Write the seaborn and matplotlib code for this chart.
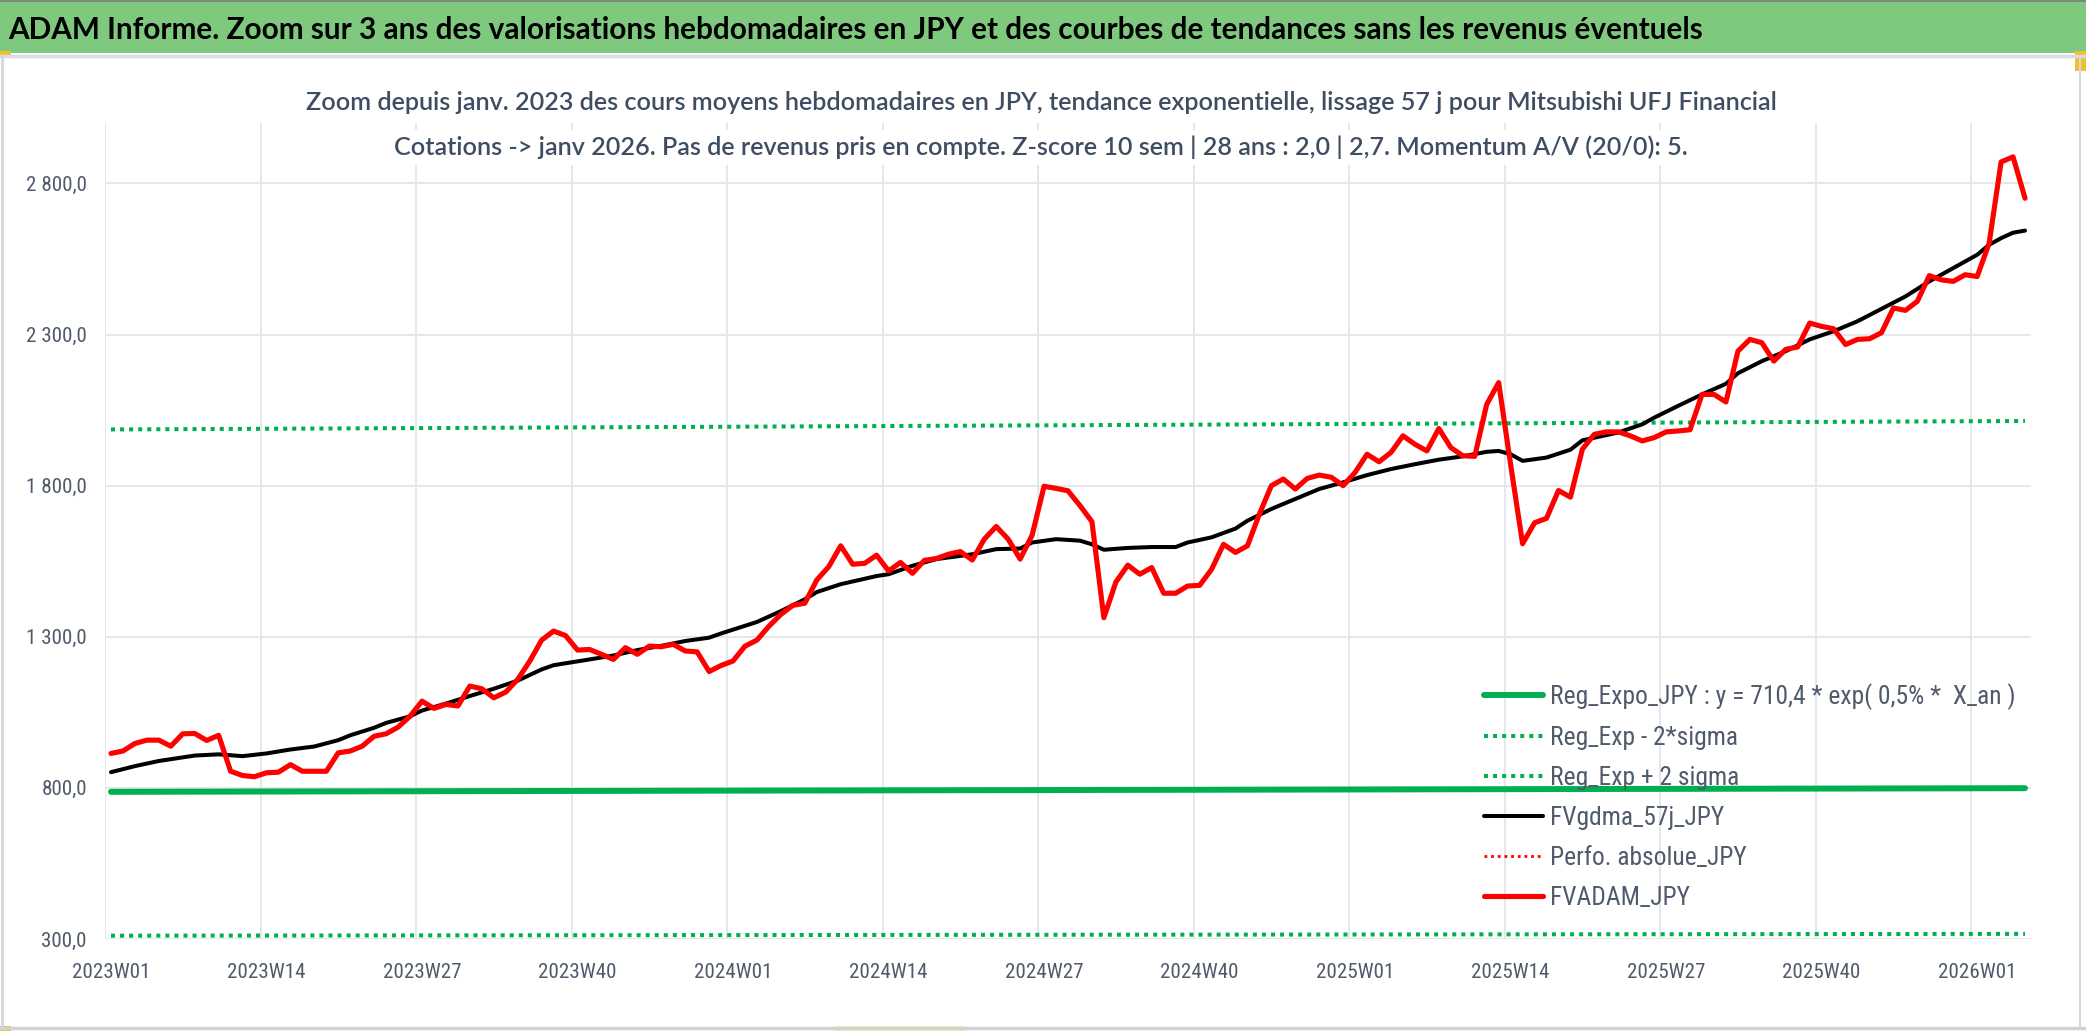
import matplotlib
matplotlib.use("Agg")
import matplotlib.pyplot as plt
from matplotlib import font_manager
from matplotlib.font_manager import FontProperties
from matplotlib.patches import Rectangle
from matplotlib.lines import Line2D
from matplotlib.ticker import FuncFormatter
import pandas as pd
import seaborn as sns

####### data (weekly, 2023W01 .. 2026W05)

tick_labels = ["2023W01", "2023W14", "2023W27", "2023W40", "2024W01", "2024W14", "2024W27",
               "2024W40", "2025W01", "2025W14", "2025W27", "2025W40", "2026W01"]
y_ticks = [300, 800, 1300, 1800, 2300, 2800]

# FVADAM_JPY, one value per week
fvadam_jpy = [
    914, 922, 947, 958, 958, 938, 979, 980, 957, 974, 855, 841, 837,
    850, 852, 877, 855, 855, 855, 916, 922, 938, 971, 979, 1001, 1037,
    1087, 1063, 1076, 1071, 1137, 1128, 1098, 1117, 1159, 1219, 1289, 1319, 1304,
    1256, 1258, 1242, 1225, 1264, 1242, 1269, 1267, 1275, 1253, 1250, 1185, 1205,
    1220, 1269, 1289, 1335, 1374, 1404, 1411, 1488, 1532, 1601, 1540, 1543, 1570,
    1518, 1546, 1510, 1553, 1559, 1573, 1582, 1554, 1623, 1665, 1623, 1557, 1636,
    1798, 1791, 1783, 1734, 1681, 1363, 1481, 1537, 1507, 1529, 1444, 1444, 1468,
    1470, 1523, 1606, 1579, 1601, 1706, 1800, 1822, 1789, 1824, 1835, 1828, 1800,
    1844, 1904, 1879, 1910, 1965, 1937, 1915, 1989, 1926, 1899, 1897, 2069, 2141,
    1870, 1608, 1677, 1692, 1784, 1762, 1921, 1970, 1978, 1978, 1965, 1948, 1959,
    1978, 1981, 1985, 2102, 2102, 2077, 2245, 2284, 2273, 2212, 2251, 2259, 2338,
    2327, 2319, 2267, 2284, 2286, 2306, 2388, 2380, 2410, 2495, 2481, 2476, 2498,
    2492, 2602, 2871, 2888, 2751,
]

# FVgdma_57j_JPY (smooth curve, read at these week positions)
gdma_weeks = [0, 2, 4, 7, 9, 11, 13, 15, 17, 19, 20, 22, 23, 25, 26, 28, 30, 32, 34, 36, 37,
              40, 42, 44, 46, 48, 50, 51, 54, 56, 58, 59, 61, 64, 65, 67, 69, 72, 74, 76, 77,
              79, 81, 82, 83, 85, 87, 89, 90, 92, 94, 95, 97, 99, 101, 103, 105, 107, 109,
              111, 113, 115, 116, 117, 118, 120, 122, 123, 126, 128, 129, 131, 133, 135,
              136, 138, 140, 142, 144, 146, 148, 150, 152, 154, 156, 157, 158, 159, 160]
gdma_values = [852, 872, 889, 907, 911, 905, 914, 927, 937, 958, 974, 999, 1015, 1037, 1056,
               1079, 1104, 1128, 1155, 1192, 1206, 1225, 1238, 1256, 1270, 1286, 1297, 1311,
               1349, 1385, 1424, 1448, 1474, 1501, 1507, 1535, 1557, 1573, 1590, 1592, 1612,
               1623, 1618, 1606, 1588, 1594, 1597, 1597, 1612, 1629, 1658, 1684, 1723, 1756,
               1789, 1811, 1835, 1855, 1871, 1886, 1897, 1912, 1915, 1904, 1882, 1893, 1919,
               1950, 1976, 2003, 2025, 2064, 2102, 2137, 2172, 2212, 2245, 2284, 2311, 2344,
               2385, 2426, 2476, 2520, 2564, 2597, 2619, 2637, 2644]

# exponential regression and its +/- 2 sigma band
reg_weeks = [0, 80, 160]
reg_expo = [787, 793, 799]
reg_minus = [311, 314, 317]
reg_plus = [1986, 2000, 2014]

title = ("ADAM Informe. Zoom sur 3 ans des valorisations hebdomadaires en JPY "
         "et des courbes de tendances sans les revenus éventuels")
sub1 = ("Zoom depuis janv. 2023 des cours moyens hebdomadaires en JPY, tendance "
        "exponentielle, lissage 57 j pour Mitsubishi UFJ Financial")
sub2 = "Cotations -> janv 2026. Pas de revenus pris en compte. Z-score 10 sem | 28 ans : 2,0 | 2,7. Momentum A/V (20/0): 5."

lbl_reg = "Reg_Expo_JPY : y = 710,4 * exp( 0,5% *  X_an )"
lbl_minus = "Reg_Exp - 2*sigma"
lbl_plus = "Reg_Exp + 2 sigma"
lbl_gdma = "FVgdma_57j_JPY"
lbl_perf = "Perfo. absolue_JPY"
lbl_adam = "FVADAM_JPY"

adam = pd.DataFrame({"week": range(len(fvadam_jpy)), "value": fvadam_jpy})
gdma = pd.DataFrame({"week": gdma_weeks, "value": gdma_values})
reg = pd.DataFrame({"week": reg_weeks, "expo": reg_expo, "minus": reg_minus, "plus": reg_plus})

####### style

sns.set_theme(style="white")
ttf = font_manager.fontManager.ttflist
names = {f.name for f in ttf}
head = "Lato" if "Lato" in names else "DejaVu Sans"
plt.rcParams["font.family"] = ["Liberation Sans", "DejaVu Sans"]


def find_condensed():
    # a narrow face looks closer to the Calibri used by the original sheet
    wanted = ["Liberation Sans Narrow", "Roboto Condensed", "Open Sans Condensed",
              "Noto Sans", "DejaVu Sans", "Open Sans", "Roboto"]
    for nm in wanted:
        for f in ttf:
            if f.name != nm or f.style != "normal" or f.weight not in (400, "normal", "regular"):
                continue
            if "Narrow" in nm or "Condensed" in nm or f.stretch in ("condensed", "semi-condensed"):
                return f.fname
    return None


cond_path = find_condensed()


def body_font(size):
    if cond_path:
        return FontProperties(fname=cond_path, size=size)
    return FontProperties(family="Liberation Sans", size=size)


GREEN = "#00B050"
GRID = "#E2E5EB"
TXT = "#4F5A6B"
SUB = "#3F4D63"

W, H = 2086, 1031
fig = plt.figure(figsize=(W / 100, H / 100), dpi=100, facecolor="white")
renderer = fig.canvas.get_renderer()


def text_box(s, fp=None, **kw):
    t = fig.text(0, 0, s, fontproperties=fp, **kw) if fp else fig.text(0, 0, s, **kw)
    bb = t.get_window_extent(renderer)
    t.remove()
    return bb


def fitted_size(s, target_px, **kw):
    bb = text_box(s, fontsize=20, **kw)
    return 20 * target_px / bb.width


# banner and sheet frame
fig.add_artist(Rectangle((0, 1 - 53 / H), 1, 53 / H, transform=fig.transFigure,
                         facecolor="#7FC97F", edgecolor="none", zorder=0))
fig.add_artist(Line2D([0, 1], [1 - 1 / H, 1 - 1 / H], transform=fig.transFigure,
                      color="#7A8A7A", lw=1.5))
fig.add_artist(Line2D([0, 1], [1 - 56 / H, 1 - 56 / H], transform=fig.transFigure,
                      color="#D9DCE2", lw=2.5))
fig.add_artist(Line2D([0, 1], [1 - 1028 / H, 1 - 1028 / H], transform=fig.transFigure,
                      color="#CDD1D8", lw=2.5))
fig.add_artist(Line2D([1.5 / W, 1.5 / W], [1 - 1028 / H, 1 - 56 / H], transform=fig.transFigure,
                      color="#D4D7DD", lw=2))
fig.add_artist(Line2D([2080 / W, 2080 / W], [1 - 1028 / H, 1 - 56 / H], transform=fig.transFigure,
                      color="#D4D7DD", lw=1.5))
for x0, y0, w0, h0, c in [(0, 51, 11, 4, "#F2C02F"), (2075, 51, 11, 20, "#F2C02F"),
                          (0, 1026, 11, 5, "#F2C02F"), (835, 1026, 130, 5, "#FAF3A0")]:
    fig.add_artist(Rectangle((x0 / W, 1 - (y0 + h0) / H), w0 / W, h0 / H,
                             transform=fig.transFigure, facecolor=c, edgecolor="none"))

fs_title = fitted_size(title, 1697, family=head, weight="bold")
fig.text(8 / W, 1 - 39 / H, title, family=head, weight="bold", fontsize=fs_title,
         color="black", ha="left", va="baseline")

fs_sub = fitted_size(sub1, 1473, family=head, weight="semibold")
for s, yb in [(sub1, 110), (sub2, 155)]:
    fig.text(1041 / W, 1 - yb / H, s, family=head, weight="semibold", fontsize=fs_sub,
             color=SUB, ha="center", va="baseline", zorder=5,
             bbox=dict(facecolor="white", edgecolor="none", pad=4))

# tick / legend sizes from the widths seen in the original
fs_tick = 20 * 61 / text_box("2 800,0", body_font(20)).width
if not cond_path:
    fs_tick *= 1.08
fs_leg = 20 * 465 / text_box(lbl_reg, body_font(20)).width
leg_px = fs_leg * 100 / 72
row_h = text_box(lbl_gdma, body_font(fs_leg)).height

####### chart

ax = fig.add_axes([105 / W, 1 - 939 / H, (2031 - 105) / W, (939 - 123) / H])
ax.set_facecolor("white")

sns.lineplot(data=reg, x="week", y="expo", ax=ax, color=GREEN, lw=4.3,
             solid_capstyle="round", label=lbl_reg, zorder=3)
sns.lineplot(data=reg, x="week", y="minus", ax=ax, color=GREEN, lw=2.9,
             linestyle=(0, (1, 1.25)), label=lbl_minus, zorder=3)
sns.lineplot(data=reg, x="week", y="plus", ax=ax, color=GREEN, lw=2.9,
             linestyle=(0, (1, 1.25)), label=lbl_plus, zorder=3)
sns.lineplot(data=gdma, x="week", y="value", ax=ax, color="black", lw=2.9,
             solid_joinstyle="round", label=lbl_gdma, zorder=4)
ax.plot([], [], color="#FF0000", lw=2.0, linestyle=(0, (1, 1.4)), label=lbl_perf)
sns.lineplot(data=adam, x="week", y="value", ax=ax, color="#FF0000", lw=3.7,
             solid_joinstyle="round", label=lbl_adam, zorder=5)

ax.set_xlim(-0.5, len(fvadam_jpy) - 0.5)
ax.set_ylim(300, 3000)
ax.set_xlabel("")
ax.set_ylabel("")

ax.set_xticks([13 * k for k in range(len(tick_labels))])
ax.set_xticklabels(tick_labels)
ax.set_xticks([13 * k - 0.5 for k in range(len(tick_labels))], minor=True)
ax.set_yticks(y_ticks)
ax.yaxis.set_major_formatter(FuncFormatter(lambda v, p: f"{v:,.1f}".replace(",", " ").replace(".", ",")))
for lab in ax.get_xticklabels() + ax.get_yticklabels():
    lab.set_fontproperties(body_font(fs_tick))
    lab.set_color(TXT)

ax.grid(False)
ax.grid(which="minor", axis="x", color=GRID, lw=1.3, zorder=0)
ax.grid(which="major", axis="y", color=GRID, lw=1.3, zorder=0)
ax.set_axisbelow(True)
ax.tick_params(axis="x", which="major", length=0, pad=17)
ax.tick_params(axis="x", which="minor", length=6.5, width=1.3, color=GRID)
ax.tick_params(axis="y", length=0, pad=13)
for sp in ax.spines.values():
    sp.set_visible(False)

handles, labels = ax.get_legend_handles_labels()
ax.legend(handles, labels, loc="upper left",
          bbox_to_anchor=(1484 / W, 1 - (695 - row_h / 2) / H),
          bbox_transform=fig.transFigure, frameon=False, prop=body_font(fs_leg),
          handlelength=59 / leg_px, handletextpad=7 / leg_px,
          labelspacing=(40 - row_h) / leg_px,
          borderpad=0, borderaxespad=0, labelcolor=TXT)

fig.savefig("out.png", dpi=100, facecolor="white")
